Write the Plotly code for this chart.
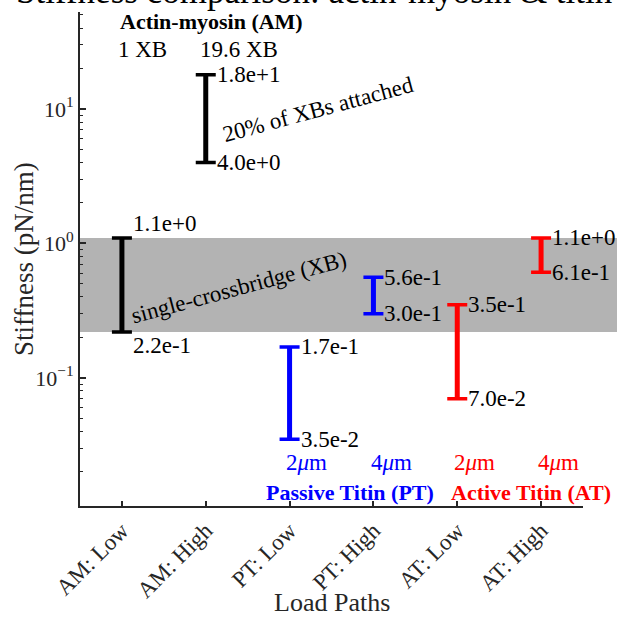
import math
import plotly.graph_objects as go

# ---------------- data ----------------
categories = ["AM: Low", "AM: High", "PT: Low", "PT: High", "AT: Low", "AT: High"]
low_vals = [0.22, 4.0, 0.035, 0.30, 0.070, 0.61]
high_vals = [1.1, 18.0, 0.17, 0.56, 0.35, 1.1]
groups = ["AM", "AM", "PT", "PT", "AT", "AT"]
group_colors = {"AM": "#000000", "PT": "#0000ff", "AT": "#ff0000"}
band_low, band_high = 0.22, 1.1
y_tick_vals = [0.1, 1, 10]
y_tick_text = ["10<sup>−1</sup>", "10<sup>0</sup>", "10<sup>1</sup>"]

FONT = "Liberation Serif, Times New Roman, serif"
AXC = "#262626"


def fmt(v):
    m, e = f"{v:.1e}".split("e")
    return f"{m}e{int(e):+d}"


fig = go.Figure()

# gray band (single crossbridge)
fig.add_shape(type="rect", xref="paper", yref="y", x0=0, x1=1.0676,
              y0=band_low, y1=band_high, fillcolor="#b3b3b3",
              line=dict(width=0), layer="below")

xidx = list(range(len(categories)))
for g, col in group_colors.items():
    ix = [i for i in xidx if groups[i] == g]
    ys = [low_vals[i] for i in ix]
    up = [high_vals[i] - low_vals[i] for i in ix]
    zero = [0 for _ in ix]
    # stem
    fig.add_trace(go.Scatter(x=ix, y=ys, mode="markers",
                             marker=dict(size=1, opacity=0),
                             error_y=dict(type="data", symmetric=False, array=up,
                                          arrayminus=zero, color=col,
                                          thickness=5, width=0),
                             showlegend=False, hoverinfo="skip"))
    # caps
    fig.add_trace(go.Scatter(x=ix, y=ys, mode="markers",
                             marker=dict(size=1, opacity=0),
                             error_y=dict(type="data", symmetric=False, array=up,
                                          arrayminus=zero, color=col,
                                          thickness=3.5, width=10),
                             showlegend=False, hoverinfo="skip"))

annots = []
# value labels
for i in xidx:
    special = (i == 0)
    annots.append(dict(x=i, y=math.log10(high_vals[i]), xref="x", yref="y",
                       text=fmt(high_vals[i]), showarrow=False, xanchor="left",
                       yanchor="middle", xshift=9, yshift=14 if special else 0,
                       font=dict(family=FONT, size=23, color="#000000")))
    annots.append(dict(x=i, y=math.log10(low_vals[i]), xref="x", yref="y",
                       text=fmt(low_vals[i]), showarrow=False, xanchor="left",
                       yanchor="middle", xshift=9, yshift=-14 if special else 0,
                       font=dict(family=FONT, size=23, color="#000000")))


def ptxt(text, px, py, size=23, color="#000000", angle=0, bold=False):
    t = f"<b>{text}</b>" if bold else text
    annots.append(dict(x=(px - 80) / 503, y=(506 - py) / 494, xref="paper", yref="paper",
                       text=t, showarrow=False, xanchor="center", yanchor="middle",
                       textangle=angle, font=dict(family=FONT, size=size, color=color)))


ptxt("Actin-myosin (AM)", 211, 21, size=22, bold=True)
ptxt("1 XB", 142, 50)
ptxt("19.6 XB", 239, 50)
ptxt("20% of XBs attached", 318, 110, angle=-15)
ptxt("single-crossbridge (XB)", 239, 287, angle=-15)
ptxt("2<i>μ</i>m", 306, 462, color="#0000ff")
ptxt("4<i>μ</i>m", 391, 462, color="#0000ff")
ptxt("2<i>μ</i>m", 474, 462, color="#ff0000")
ptxt("4<i>μ</i>m", 558, 462, color="#ff0000")
ptxt("Passive Titin (PT)", 350, 492, size=22, color="#0000ff", bold=True)
ptxt("Active Titin (AT)", 531, 492, size=22, color="#ff0000", bold=True)
# axis titles
ptxt("Load Paths", 332, 602, size=26, color=AXC)
ptxt("Stiffness (pN/nm)", 24, 259, size=27, color=AXC, angle=-90)

# title (partially cut off at the top)
annots.append(dict(x=(314 - 80) / 503, y=1, xref="paper", yref="paper",
                   text="Stiffness comparison: actin-myosin & titin", showarrow=False,
                   xanchor="center", yanchor="bottom", yshift=-1,
                   font=dict(family=FONT, size=35, color="#000000")))

minor_vals = [m * 10 ** k for k in range(-2, 2) for m in range(2, 10)]

fig.update_layout(
    width=617, height=619,
    margin=dict(l=80, r=34, t=12, b=113),
    paper_bgcolor="white", plot_bgcolor="white",
    annotations=annots,
    font=dict(family=FONT, color=AXC),
    xaxis=dict(range=[-0.5, 5.5], tickmode="array", tickvals=xidx, ticktext=categories,
               tickangle=-45, ticks="inside", ticklen=5, tickwidth=1.5, tickcolor=AXC,
               showline=True, linecolor=AXC, linewidth=2, showgrid=False, zeroline=False,
               automargin=False,
               tickfont=dict(family=FONT, size=23, color=AXC)),
    yaxis=dict(type="log", range=[-1.952, 1.721], tickmode="array", tickvals=y_tick_vals,
               ticktext=y_tick_text, ticks="inside", ticklen=6, tickwidth=1.5, tickcolor=AXC,
               minor=dict(tickmode="array", tickvals=minor_vals, ticks="inside", ticklen=3,
                          tickwidth=1.2, tickcolor=AXC),
               showline=True, linecolor=AXC, linewidth=2, showgrid=False, zeroline=False,
               automargin=False,
               tickfont=dict(family=FONT, size=22, color=AXC)),
)

fig.write_html("out.html")
